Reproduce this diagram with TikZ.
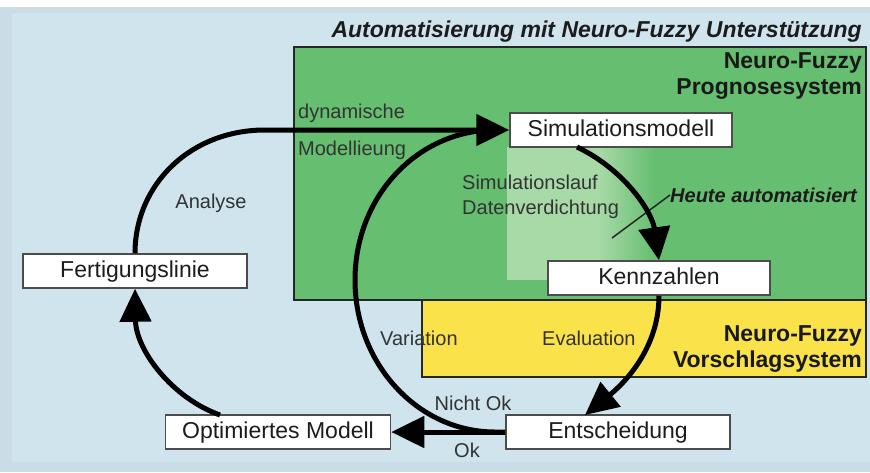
\documentclass[tikz,border=0pt]{standalone}
\usepackage{fontspec}
\setmainfont{Liberation Sans}
\usetikzlibrary{arrows.meta}

\definecolor{bgblue}{RGB}{207,228,237}
\definecolor{bgframe}{RGB}{202,221,230}
\definecolor{nfgreen}{RGB}{102,190,112}
\definecolor{nflight}{RGB}{168,218,168}
\definecolor{nfyellow}{RGB}{250,226,74}
\definecolor{inkgrey}{RGB}{28,28,28}

\tikzset{
  box/.style={draw=black!70, line width=1.5pt, fill=white, minimum width=222pt,
    minimum height=34pt, inner sep=0pt, text height=16.5pt, text depth=4.5pt,
    font=\fontsize{23}{27}\selectfont, text=inkgrey},
  lbl/.style={font=\fontsize{20}{24}\selectfont, text=black!80, inner sep=0pt},
  head/.style={font=\fontsize{23}{26}\selectfont\bfseries, text=black!90,
    inner sep=0pt, align=right},
  titel/.style={font=\fontsize{23}{27}\selectfont\bfseries\itshape, text=inkgrey, inner sep=0pt},
  heute/.style={font=\fontsize{20}{24}\selectfont\bfseries\itshape, text=inkgrey, inner sep=0pt},
  flow/.style={line width=5pt, -{Triangle[length=33pt,width=31pt]}},
  bogen/.style={line width=5pt},
  rahmen/.style={line width=1.8pt, draw=black!85}
}

\begin{document}
\begin{tikzpicture}[x=1pt,y=-1pt]
    \useasboundingbox (0,0) rectangle (870,472);
    \fill[bgframe] (0,7) rectangle (870,472);
    \fill[bgblue] (12,13) rectangle (870,462);

    % Neuro-Fuzzy Bereiche
    \fill[nfgreen] (294,47) rectangle (866,300);
    \fill[nflight] (507,147) rectangle (598,280);
    \shade[left color=nflight, right color=nfgreen] (598,147) rectangle (655,280);
    \draw[rahmen] (294,47) rectangle (866,300);
    \fill[nfyellow] (422,300) rectangle (866,377);
    \draw[rahmen] (422,300) rectangle (866,377);

    \node[titel, anchor=base east] (titel) at (862,37) {Automatisierung mit Neuro-Fuzzy Unterstützung};
    \node[head, anchor=north east] (prog) at (862,52) {Neuro-Fuzzy\\Prognosesystem};
    \node[head, anchor=north east] (vorschlag) at (862,325) {Neuro-Fuzzy\\Vorschlagsystem};

    % Kaesten
    \node[box, minimum width=224pt] (fert) at (135,271) {Fertigungslinie};
    \node[box] (simu) at (621,130) {Simulationsmodell};
    \node[box] (kenn) at (659,278) {Kennzahlen};
    \node[box, minimum width=224pt] (ents) at (618,432) {Entscheidung};
    \node[box, minimum width=225pt] (opti) at (278,432) {Optimiertes Modell};

    % Beschriftungen
    \node[lbl, anchor=west] (dyn) at (298,113) {dynamische};
    \node[lbl, anchor=west] (modl) at (298,150) {Modellieung};
    \node[lbl] (analyse) at (211,203) {Analyse};
    \node[lbl, anchor=west] (simlauf) at (462,182) {Simulationslauf};
    \node[lbl, anchor=west] (datver) at (462,209) {Datenverdichtung};
    \node[lbl, anchor=west] (variation) at (380,338) {Variation};
    \node[lbl, anchor=west] (evaluation) at (542,338) {Evaluation};
    \node[lbl] (nichtok) at (473,403) {Nicht Ok};
    \node[lbl] (ok) at (467,450) {Ok};
    \node[heute, anchor=west] (heute) at (670,195) {Heute automatisiert};
    \coordinate (heutefuss) at (612,238);
    \draw[line width=1.5pt, black!85] (heutefuss) -- (heute.west);

    % Kreislauf
    \coordinate (oben) at (265,130);
    \coordinate (merge) at (495,130);
    \coordinate (optistart) at (220,415);
    \coordinate (simustart) at (577,147);
    \coordinate (entsziel) at (585,415);
    \draw[flow] (fert.north) .. controls (135,185) and (190,130) .. (oben) -- (simu.west);
    \draw[flow] (optistart) .. controls (172,398) and (136,350) .. (fert.south);
    \draw[flow] (simustart) .. controls (625,170) and (652,212) .. (kenn.north);
    \draw[flow] (kenn.south) .. controls (659,350) and (622,385) .. (entsziel);
    \draw[bogen] (ents.west) -- (495,432) .. controls (418,432) and (355,364) .. (355,280)
        .. controls (355,196) and (418,130) .. (merge);
    \draw[flow] (ents.west) -- (opti.east);
\end{tikzpicture}
\end{document}
